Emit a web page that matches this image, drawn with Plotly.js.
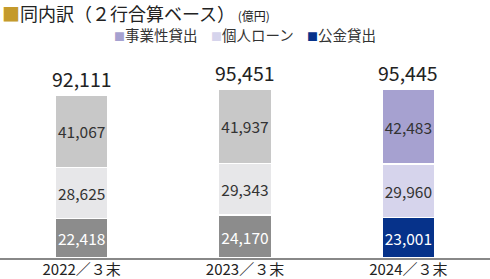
<!DOCTYPE html>
<html><head><meta charset="utf-8">
<script src="https://cdn.plot.ly/plotly-3.0.1.min.js"></script>
<style>body{margin:0;padding:0;background:#fff}#c{width:490px;height:279px}</style>
</head><body><div id="c"></div>
<script>
const categories = ['2022／３末', '2023／３末', '2024／３末'];
const publicLoans = [22418, 24170, 23001];      // 公金貸出
const personalLoans = [28625, 29343, 29960];    // 個人ローン
const businessLoans = [41067, 41937, 42483];    // 事業性貸出
const totals = [92111, 95451, 95445];
const seriesNames = ['事業性貸出', '個人ローン', '公金貸出'];

const font = '"Noto Sans CJK JP", "Noto Sans", sans-serif';
const fmt = v => v.toLocaleString('en-US');

function barTrace(vals, colors, textColors, name) {
  return {
    type: 'bar', x: categories, y: vals, name: name, showlegend: false,
    marker: {color: colors, line: {color: '#ffffff', width: 1.5}},
    text: vals.map(fmt), textposition: 'inside', insidetextanchor: 'middle',
    textangle: 0, constraintext: 'none',
    textfont: {family: font, size: 15.5, color: textColors},
    hoverinfo: 'none', cliponaxis: false
  };
}

const data = [
  barTrace(publicLoans, ['#8c8c8c', '#8c8c8c', '#06328a'], ['#ffffff', '#ffffff', '#ffffff'], seriesNames[2]),
  barTrace(personalLoans, ['#e7e7e9', '#e7e7e9', '#d6d4ec'], ['#333333', '#333333', '#333333'], seriesNames[1]),
  barTrace(businessLoans, ['#c8c8c8', '#c8c8c8', '#a6a1d0'], ['#333333', '#333333', '#333333'], seriesNames[0])
];

const annotations = categories.map((c, i) => ({
  x: c, y: totals[i], xref: 'x', yref: 'y', text: fmt(totals[i]),
  showarrow: false, yanchor: 'bottom', yshift: 0,
  font: {family: font, size: 19.5, color: '#222'}
}));

annotations.push({
  xref: 'paper', yref: 'paper', x: 0, y: 1, xanchor: 'left', yanchor: 'middle',
  xshift: 0, yshift: 45 - 13,
  text: '<span style="color:#c49a2c">■</span>同内訳（２行合算ベース）<span style="font-size:12px"> (億円)</span>',
  showarrow: false, font: {family: font, size: 18, color: '#222'}, align: 'left'
});

const legendColors = ['#a6a1d0', '#d6d4ec', '#06328a'];
const legendX = [112, 209, 305];
seriesNames.forEach((n, i) => {
  annotations.push({
    xref: 'paper', yref: 'paper', x: legendX[i] / 490, y: 1, xanchor: 'left', yanchor: 'middle',
    yshift: 45 - 34,
    text: '<span style="color:' + legendColors[i] + ';font-size:11px">■</span>' + n,
    showarrow: false, font: {family: font, size: 14.5, color: '#333'}
  });
});

const layout = {
  width: 490, height: 279,
  margin: {l: 0, r: 0, t: 45, b: 21},
  barmode: 'stack', bargap: 0.675,
  paper_bgcolor: '#fff', plot_bgcolor: '#fff',
  xaxis: {showline: true, linecolor: '#888', linewidth: 1.5, ticks: '', showgrid: false,
          ticklabelstandoff: -3,
          tickfont: {family: font, size: 15, color: '#222'}, fixedrange: true},
  yaxis: {range: [0, 120300], visible: false, showgrid: false, zeroline: false, fixedrange: true},
  annotations: annotations,
  font: {family: font},
  uniformtext: {mode: false}
};

Plotly.newPlot('c', data, layout, {displayModeBar: false, staticPlot: true});
</script>
</body></html>
